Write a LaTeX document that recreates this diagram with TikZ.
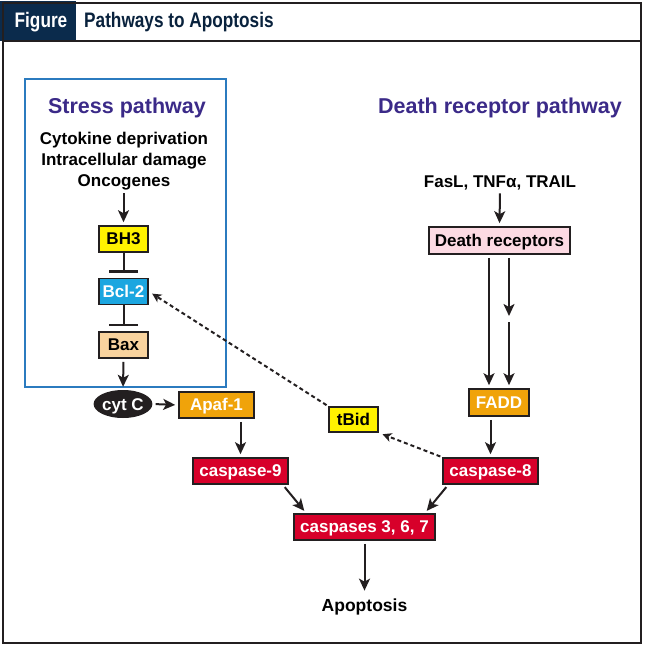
\documentclass[tikz,border=0pt]{standalone}
\usepackage{fontspec}
\setmainfont{Liberation Sans}
\newfontfamily\condfont[FakeStretch=0.82]{Liberation Sans}
\usetikzlibrary{arrows.meta,shapes.geometric}
\definecolor{navy}{HTML}{0B2B4C}
\definecolor{edge}{HTML}{231F20}
\definecolor{pathcol}{HTML}{3B2A88}
\definecolor{stressblue}{HTML}{2B7BBF}
\definecolor{bhyellow}{HTML}{FFF200}
\definecolor{bclblue}{HTML}{1BA6E0}
\definecolor{baxtan}{HTML}{F9D39E}
\definecolor{apafor}{HTML}{F0A30A}
\definecolor{casred}{HTML}{D7002A}
\definecolor{drpink}{HTML}{FCDAE3}
\begin{document}
\begin{tikzpicture}[x=1pt,y=-1pt,
			every node/.style={font=\fontsize{17}{19}\selectfont\bfseries},
			box/.style={draw=edge, line width=1.6pt, minimum height=26pt, inner sep=2pt, text height=12pt, text depth=0.5pt},
			title/.style={text=pathcol, font=\fontsize{21.5}{24}\selectfont\bfseries},
			plain/.style={font=\fontsize{17}{21}\selectfont\bfseries, align=center, inner sep=0pt},
			arr/.style={-{Stealth[length=12pt,width=11pt,inset=3pt]}, line width=2pt, draw=edge, shorten <=3pt, shorten >=3pt},
			dotarr/.style={-{Stealth[length=9pt,width=9pt,inset=2.5pt]}, line width=2pt, draw=edge, dash pattern=on 4pt off 3pt, shorten <=2pt, shorten >=4pt},
			inhib/.style={-{Bar[width=29pt,line width=2.5pt]}, line width=2pt, draw=edge, shorten >=5pt}]
			
			\useasboundingbox (0,0) rectangle (646,647);
			% frame and header
			\fill[navy] (0,1) rectangle (76,41);
			\draw[edge, line width=1.3pt] (3,3) rectangle (641,643);
			\draw[edge, line width=1.3pt] (3,41) -- (641,41);
			\node[text=white, font=\condfont\fontsize{21}{23}\selectfont\bfseries] (figtag) at (41,22) {Figure};
			\node[anchor=west, inner sep=0pt, text=navy!80!black, font=\condfont\fontsize{21}{23}\selectfont\bfseries] (figtitle) at (84,22) {Pathways to Apoptosis};
			
			% stress pathway
			\draw[stressblue, line width=1.4pt] (25,79) rectangle (226,387);
			\node[title] (stresstitle) at (127,108) {Stress pathway};
			\node[plain] (stress) at (124,161) {Cytokine deprivation\\Intracellular damage\\Oncogenes};
			\node[box, fill=bhyellow, minimum width=49pt] (bh3) at (123.5,239) {BH3};
			\node[box, fill=bclblue, text=white, minimum width=49pt] (bcl2) at (123.5,291.5) {Bcl-2};
			\node[box, fill=baxtan, minimum width=49pt] (bax) at (123.5,345) {Bax};
			\node[ellipse, fill=edge, text=white, minimum width=52pt, minimum height=28pt, inner sep=0pt, text height=12pt, text depth=0pt] (cytc) at (123,404) {cyt C};
			\node[box, fill=apafor, text=white, minimum width=75pt] (apaf) at (216.5,405) {Apaf-1};
			\node[box, fill=casred, text=white, minimum width=95pt] (cas9) at (240.5,471) {caspase-9};
			
			% death receptor pathway
			\node[title] (drtitle) at (500,108) {Death receptor pathway};
			\node[plain] (ligands) at (500,183) {FasL, TNFα, TRAIL};
			\node[box, fill=drpink, minimum width=141pt, minimum height=27pt] (dr) at (499.5,240.5) {Death receptors};
			\node[box, fill=apafor, text=white, minimum width=60pt, minimum height=27pt] (fadd) at (499,402.5) {FADD};
			\node[box, fill=casred, text=white, minimum width=95pt] (cas8) at (490.5,471) {caspase-8};
			\node[box, fill=bhyellow, minimum width=49pt, minimum height=25pt] (tbid) at (353.5,419.5) {tBid};
			\coordinate (gaptop) at (509,316);
			\coordinate (gapbot) at (509,322);
			
			% common end
			\node[box, fill=casred, text=white, minimum width=141pt] (cas367) at (364.5,527) {caspases 3, 6, 7};
			\node[plain, font=\fontsize{17.5}{20}\selectfont\bfseries] (apoptosis) at (364.5,607) {Apoptosis};
			
			\draw[arr] (stress.south -| bh3.north) -- (bh3.north);
			\draw[inhib] (bh3) -- (bcl2.north);
			\draw[inhib] (bcl2) -- (bax.north);
			\draw[arr] (bax.south) -- (cytc.north);
			\draw[arr] (cytc.east) -- (apaf.west);
			\draw[arr] (apaf.south -| cas9.north) -- (cas9.north);
			\draw[arr] ([xshift=-6pt]cas9.south east) -- ([xshift=13pt]cas367.north west);
			\draw[arr] (ligands.south) -- (dr.north);
			\draw[arr] ([xshift=-10.5pt]dr.south) -- ([xshift=-10pt]fadd.north);
			\draw[arr, shorten >=0pt] ([xshift=9.5pt]dr.south) -- (gaptop);
			\draw[arr, shorten <=0pt] (gapbot) -- ([xshift=10pt]fadd.north);
			\draw[arr] (fadd.south -| cas8.north) -- (cas8.north);
			\draw[arr] ([xshift=6pt]cas8.south west) -- ([xshift=-11pt]cas367.north east);
			\draw[dotarr] (cas8.north west) -- (tbid.south east);
			\draw[dotarr] (tbid.north west) -- (bcl2.east);
			\draw[arr] (cas367.south) -- ([yshift=5pt]apoptosis.north);
			\end{tikzpicture}
\end{document}
